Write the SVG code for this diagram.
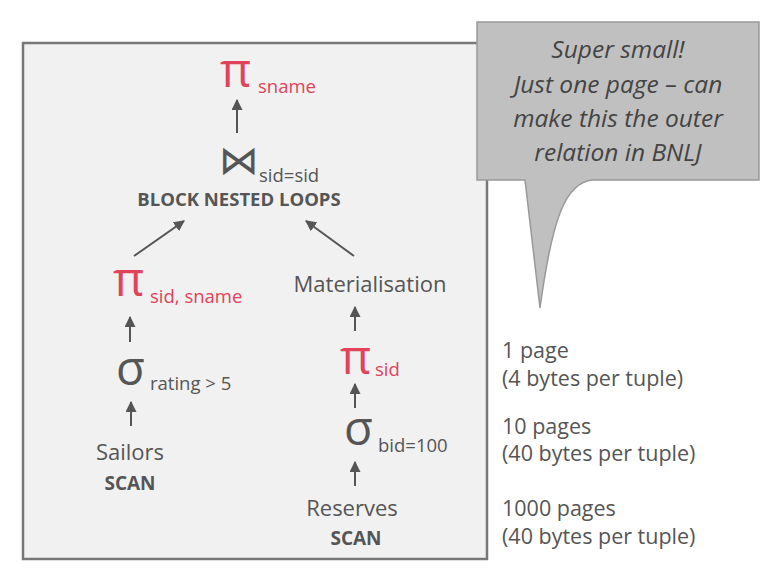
<svg xmlns="http://www.w3.org/2000/svg" width="771" height="586" viewBox="0 0 771 586">
<style>
.g{fill:#555;font-family:"Open Sans","Liberation Sans",sans-serif}
.r{fill:#e0435a;font-family:"Open Sans","Liberation Sans",sans-serif}
.b{font-weight:bold}
.sym{font-family:"DejaVu Sans","Liberation Sans",sans-serif}
.c{fill:#444;font-family:"Open Sans","Liberation Sans",sans-serif;font-style:italic;font-size:24.5px}
.e{stroke:#555;stroke-width:2;fill:none;marker-end:url(#ah)}
</style>
<defs>
<marker id="ah" viewBox="0 0 10 10" refX="9" refY="5" markerWidth="5.5" markerHeight="5.5" orient="auto" markerUnits="strokeWidth">
<path d="M0,0 L10,5 L0,10 z" fill="#555"/>
</marker>
</defs>
<rect width="771" height="586" fill="#fff"/>
<rect id="frame" x="23" y="43" width="464" height="516" fill="#f1f1f1" stroke="#777" stroke-width="2.5"/>

<g id="proj_top">
<text x="220" y="87" class="r" font-size="48">π</text>
<text x="258" y="93" class="r" font-size="18.5">sname</text>
</g>
<g id="join">
<text x="219" y="174" class="g sym" font-size="40">⋈</text>
<text x="259" y="182" class="g" font-size="18.5">sid=sid</text>
<text x="239" y="206" class="g b" font-size="18.5" text-anchor="middle">BLOCK NESTED LOOPS</text>
</g>
<g id="proj_left">
<text x="113" y="296" class="r" font-size="48">π</text>
<text x="150" y="303" class="r" font-size="18.5">sid, sname</text>
</g>
<g id="mat">
<text x="370" y="292" class="g" font-size="22" text-anchor="middle">Materialisation</text>
</g>
<g id="sel_left">
<text x="116" y="385" class="g" font-size="47">σ</text>
<text x="150" y="390" class="g" font-size="18.5">rating &gt; 5</text>
</g>
<g id="sailors">
<text x="130" y="460" class="g" font-size="22" text-anchor="middle">Sailors</text>
<text x="130" y="490" class="g b" font-size="19" text-anchor="middle">SCAN</text>
</g>
<g id="proj_right">
<text x="340" y="374" class="r" font-size="48">π</text>
<text x="375" y="376" class="r" font-size="18.5">sid</text>
</g>
<g id="sel_right">
<text x="344" y="445" class="g" font-size="47">σ</text>
<text x="378" y="452" class="g" font-size="18.5">bid=100</text>
</g>
<g id="reserves">
<text x="352" y="516" class="g" font-size="22" text-anchor="middle">Reserves</text>
<text x="356" y="545" class="g b" font-size="19" text-anchor="middle">SCAN</text>
</g>

<g id="connectors">
<line x1="237" y1="133" x2="237" y2="100" class="e"/>
<line x1="134" y1="256" x2="184" y2="221" class="e"/>
<line x1="354" y1="256" x2="306" y2="221" class="e"/>
<line x1="130" y1="342" x2="130" y2="317" class="e"/>
<line x1="355" y1="331" x2="355" y2="307" class="e"/>
<line x1="131" y1="426" x2="131" y2="402" class="e"/>
<line x1="355" y1="408" x2="355" y2="384" class="e"/>
<line x1="355" y1="486" x2="355" y2="462" class="e"/>
</g>

<g id="callout">
<path d="M477,22 H759 V180 H593 C565,182 552,220 540,308 L525,180 H477 Z" fill="#c0c0c0" stroke="#999" stroke-width="1.5"/>
<text x="618" y="58" class="c" text-anchor="middle">Super small!</text>
<text x="618" y="93" class="c" text-anchor="middle">Just one page – can</text>
<text x="618" y="127" class="c" text-anchor="middle">make this the outer</text>
<text x="618" y="161" class="c" text-anchor="middle">relation in BNLJ</text>
</g>

<g id="sizes">
<text x="502" y="358" class="g" font-size="21.5">1 page</text>
<text x="502" y="386" class="g" font-size="21.5">(4 bytes per tuple)</text>
<text x="502" y="434" class="g" font-size="21.5">10 pages</text>
<text x="502" y="461" class="g" font-size="21.5">(40 bytes per tuple)</text>
<text x="502" y="516" class="g" font-size="21.5">1000 pages</text>
<text x="502" y="544" class="g" font-size="21.5">(40 bytes per tuple)</text>
</g>
</svg>
